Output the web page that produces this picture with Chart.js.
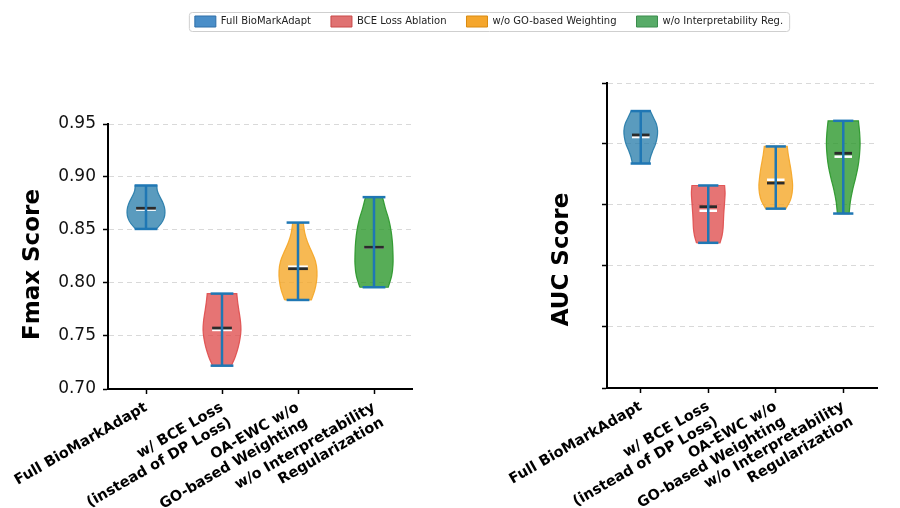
<!DOCTYPE html>
<html><head><meta charset="utf-8">
<script src="https://cdn.jsdelivr.net/npm/chart.js@4.4.1/dist/chart.umd.min.js"></script>
<style>
html,body{margin:0;padding:0;background:#fff;}
#wrap{position:relative;width:900px;height:508px;overflow:hidden;background:#fff;}
#wrap canvas{position:absolute;left:0;top:0;}
#wrap #cLegend{top:-10px;}
</style></head><body>
<div id="wrap">
<canvas id="cFmax" width="900" height="508"></canvas>
<canvas id="cAuc" width="900" height="508"></canvas>
<canvas id="cLegend" width="900" height="508"></canvas>
</div>
<script>
// ---------------- data ----------------
const categories = [
  ["Full BioMarkAdapt"],
  ["w/ BCE Loss", "(instead of DP Loss)"],
  ["OA-EWC w/o", "GO-based Weighting"],
  ["w/o Interpretability", "Regularization"]
];
const seriesNames = ["Full BioMarkAdapt", "BCE Loss Ablation", "w/o GO-based Weighting", "w/o Interpretability Reg."];
const positions = [1, 2, 3, 4];

// Fmax panel
const fmaxTicks  = [0.70, 0.75, 0.80, 0.85, 0.90, 0.95];
const fmaxMin    = [0.851, 0.722, 0.784, 0.796];
const fmaxMax    = [0.892, 0.790, 0.857, 0.881];
const fmaxMean   = [0.8705, 0.7575, 0.8135, 0.8337];
const fmaxMedian = [0.8692, 0.7557, 0.8154, 0.8335];
// relative violin half-widths, sampled bottom (min) -> top (max)
const fmaxShapeFull   = [0.55, 0.80, 0.95, 1.00, 0.97, 0.87, 0.72, 0.60, 0.57];
const fmaxShapeBCE    = [0.50, 0.70, 0.85, 0.95, 1.00, 0.97, 0.90, 0.83, 0.78];
const fmaxShapeGO     = [0.70, 0.88, 0.98, 1.00, 0.92, 0.72, 0.50, 0.35, 0.28];
const fmaxShapeInterp = [0.75, 0.93, 1.00, 1.00, 0.97, 0.90, 0.78, 0.60, 0.45];

// AUC panel (tick labels not shown in the source)
const aucTicks  = [0.70, 0.75, 0.80, 0.85, 0.90, 0.95];
const aucMin    = [0.884, 0.819, 0.847, 0.843];
const aucMax    = [0.927, 0.866, 0.898, 0.919];
const aucMean   = [0.9074, 0.8486, 0.8680, 0.8924];
const aucMedian = [0.9057, 0.8453, 0.8707, 0.8896];
const aucShapeFull   = [0.50, 0.58, 0.72, 0.88, 0.97, 1.00, 0.93, 0.75, 0.57];
const aucShapeBCE    = [0.70, 0.82, 0.88, 0.90, 0.92, 0.95, 0.98, 1.00, 0.97];
const aucShapeGO     = [0.60, 0.85, 0.97, 1.00, 0.96, 0.90, 0.82, 0.74, 0.68];
const aucShapeInterp = [0.35, 0.42, 0.55, 0.72, 0.87, 0.96, 1.00, 0.97, 0.90];

// ---------------- styles ----------------
const violinFill = ['rgba(35,122,168,0.75)', 'rgba(222,70,70,0.75)', 'rgba(245,165,35,0.78)', 'rgba(40,150,40,0.78)'];
const violinEdge = ['rgba(35,122,168,0.9)', 'rgba(222,70,70,0.85)', 'rgba(245,165,35,0.9)', 'rgba(40,150,40,0.9)'];
const legendFill = ['#4a8ec8', '#e07272', '#f5a62c', '#58ab68'];
const legendEdge = ['#2f6fa8', '#c84848', '#d98a10', '#3a8c4c'];
const WHISKER = '#1f77b4';
const HALF = 0.25, CAP = 0.15, MEANW = 0.13;

function buildDatasets(minA, maxA, meanA, medA, shapes) {
  const ds = [];
  positions.forEach((pos, i) => {
    const prof = shapes[i];
    const n = prof.length;
    const left = [], right = [];
    for (let k = 0; k < n; k++) {
      const y = minA[i] + (maxA[i] - minA[i]) * k / (n - 1);
      left.push({x: pos - HALF * prof[k], y});
      right.push({x: pos + HALF * prof[k], y});
    }
    const pts = left.slice();
    pts.push(left[n - 1]);
    pts.push(right[n - 1]);
    for (let k = n - 1; k >= 0; k--) pts.push(right[k]);
    pts.push(right[0]);
    pts.push(left[0]);
    pts.push(left[0]);
    const line = (data, color, w, order) => ({data, borderColor: color, borderWidth: w, pointRadius: 0, fill: false, tension: 0, order, borderCapStyle: 'butt'});
    ds.push({data: pts, fill: 'shape', backgroundColor: violinFill[i], borderColor: violinEdge[i], borderWidth: 1.2, pointRadius: 0, tension: 0.35, order: 6});
    ds.push(line([{x: pos - MEANW, y: medA[i]}, {x: pos + MEANW, y: medA[i]}], '#ffffff', 2.5, 5));
    ds.push(line([{x: pos - MEANW, y: meanA[i]}, {x: pos + MEANW, y: meanA[i]}], '#2b2b2b', 2.8, 4));
    ds.push(line([{x: pos, y: minA[i]}, {x: pos, y: maxA[i]}], WHISKER, 2.5, 3));
    ds.push(line([{x: pos - CAP, y: minA[i]}, {x: pos + CAP, y: minA[i]}], WHISKER, 2.5, 2));
    ds.push(line([{x: pos - CAP, y: maxA[i]}, {x: pos + CAP, y: maxA[i]}], WHISKER, 2.5, 2));
  });
  return ds;
}

const yTitlePlugin = {
  id: 'yTitle',
  afterDraw(chart, args, opts) {
    const {ctx, chartArea} = chart;
    ctx.save();
    ctx.translate(chartArea.left + opts.dx, (chartArea.top + chartArea.bottom) / 2 + opts.dy);
    ctx.rotate(-Math.PI / 2);
    ctx.font = 'bold 23px "DejaVu Sans"';
    ctx.textAlign = 'center';
    ctx.textBaseline = 'middle';
    ctx.fillStyle = '#000';
    ctx.fillText(opts.text, 0, 0);
    ctx.restore();
  }
};

function panelOptions(box, ticksArr, showLabels, title) {
  return {
    responsive: false, animation: false, events: [],
    layout: {padding: {left: 0, top: box.top, right: 900 - box.right, bottom: 0}},
    plugins: {legend: {display: false}, tooltip: {enabled: false}, yTitle: title},
    scales: {
      x: {
        type: 'linear', min: 0.5, max: 4.5,
        afterBuildTicks: s => { s.ticks = positions.map(v => ({value: v})); },
        afterFit: s => { s.height = 508 - box.bottom; s.paddingLeft = 0; s.paddingRight = 0; },
        ticks: {
          autoSkip: false, minRotation: 30, maxRotation: 30, padding: 5,
          font: {family: 'DejaVu Sans', size: 14.5, weight: 'bold'}, color: '#000',
          callback: v => categories[Math.round(v) - 1]
        },
        grid: {drawOnChartArea: false, drawTicks: true, tickLength: 5, tickColor: '#000', tickWidth: 1.5},
        border: {display: true, color: '#000', width: 2}
      },
      y: {
        type: 'linear', min: ticksArr[0], max: ticksArr[ticksArr.length - 1],
        afterBuildTicks: s => { s.ticks = ticksArr.map(v => ({value: v})); },
        afterFit: s => { s.width = box.left; s.paddingTop = 0; s.paddingBottom = 0; },
        ticks: {
          padding: 7, font: {family: 'DejaVu Sans', size: 17}, color: '#111',
          callback: v => showLabels ? Number(v).toFixed(2) : ''
        },
        grid: {color: '#d9d9d9', lineWidth: 1, drawTicks: true, tickLength: 5, tickColor: '#000', tickWidth: 1.5, tickBorderDash: []},
        border: {display: true, color: '#000', width: 2, dash: [5, 4]}
      }
    }
  };
}

new Chart(document.getElementById('cFmax'), {
  type: 'line',
  data: {datasets: buildDatasets(fmaxMin, fmaxMax, fmaxMean, fmaxMedian, [fmaxShapeFull, fmaxShapeBCE, fmaxShapeGO, fmaxShapeInterp])},
  options: panelOptions({left: 108, right: 412, top: 124, bottom: 389}, fmaxTicks, true, {text: 'Fmax Score', dx: -75, dy: 8}),
  plugins: [yTitlePlugin]
});

new Chart(document.getElementById('cAuc'), {
  type: 'line',
  data: {datasets: buildDatasets(aucMin, aucMax, aucMean, aucMedian, [aucShapeFull, aucShapeBCE, aucShapeGO, aucShapeInterp])},
  options: panelOptions({left: 607, right: 877, top: 83, bottom: 388}, aucTicks, false, {text: 'AUC Score', dx: -45, dy: 24}),
  plugins: [yTitlePlugin]
});

const legendFramePlugin = {
  id: 'legendFrame',
  beforeDraw(chart) {
    const lg = chart.legend;
    if (!lg || !lg.legendHitBoxes || !lg.legendHitBoxes.length) return;
    const hb = lg.legendHitBoxes;
    const l = Math.min(...hb.map(b => b.left)) - 6;
    const r = Math.max(...hb.map(b => b.left + b.width)) + 6;
    const t = Math.min(...hb.map(b => b.top)) - 4;
    const btm = Math.max(...hb.map(b => b.top + b.height)) + 4;
    const ctx = chart.ctx;
    ctx.save();
    ctx.beginPath();
    ctx.roundRect(l + 0.5, t + 0.5, r - l, btm - t, 3);
    ctx.fillStyle = '#fff';
    ctx.fill();
    ctx.strokeStyle = '#cfcfcf';
    ctx.lineWidth = 1;
    ctx.stroke();
    ctx.restore();
  }
};

new Chart(document.getElementById('cLegend'), {
  type: 'bar',
  data: {labels: [], datasets: seriesNames.map((n, i) => ({label: n, data: [], backgroundColor: legendFill[i], borderColor: legendEdge[i], borderWidth: 1}))},
  options: {
    responsive: false, animation: false, events: [],
    layout: {padding: {top: 6, left: 78}},
    scales: {x: {display: false}, y: {display: false}},
    plugins: {
      tooltip: {enabled: false},
      legend: {position: 'top', labels: {boxWidth: 21, boxHeight: 11, padding: 20, color: '#222', font: {family: 'DejaVu Sans', size: 10}}}
    }
  },
  plugins: [legendFramePlugin]
});
</script>
</body></html>
